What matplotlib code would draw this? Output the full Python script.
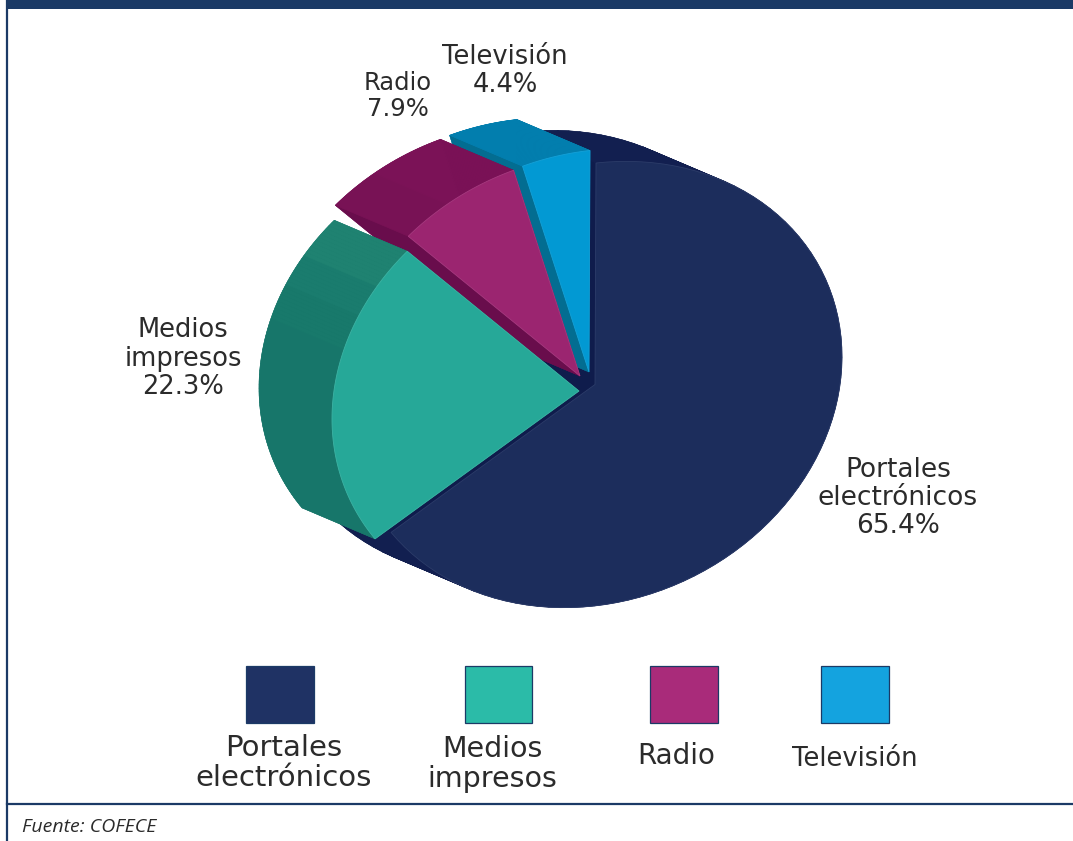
import numpy as np
from matplotlib import pyplot as plt
from matplotlib.patches import Polygon, Rectangle

plt.rcParams['font.family'] = ['DejaVu Sans']

categories = ['Portales electrónicos', 'Medios impresos', 'Radio', 'Televisión']
shares = [65.4, 22.3, 7.9, 4.4]
chart_labels = ['Portales\nelectrónicos\n65.4%', 'Medios\nimpresos\n22.3%', 'Radio\n7.9%', 'Televisión\n4.4%']
legend_labels = ['Portales\nelectrónicos', 'Medios\nimpresos', 'Radio', 'Televisión']
source = 'Fuente: COFECE'

# look of each slice, same order as categories
front_colors = ['#1c2d5c', '#26a898', '#9b2570', '#0299d3']
edge_colors = ['#2c3c69', '#3cb3a4', '#a63a7f', '#14a1d8']
side_colors = ['#121f50', '#17766a', '#7b1257', '#027eae']
wall_colors = ['#0f1c4c', '#17766a', '#690d4c', '#036d91']
legend_colors = ['#1f3264', '#2bbba8', '#a92b7a', '#14a3df']
navy = '#1b3a66'
text_color = '#2b2b2b'

# the tilted circle, in pixels
apex = [(595, 384.5), (579, 391), (580, 376), (589, 372)]
vec_a = np.array([247.0, -27.0])
vec_b = np.array([1.0, -221.5])
depth = np.array([-73.0, -31.0])


def slice_arc(center, start, stop):
    theta = np.radians(np.linspace(start, stop, 90))
    pts = np.outer(np.sin(theta), vec_a) + np.outer(np.cos(theta), vec_b)
    return pts + np.array(center)


fig = plt.figure(figsize=(10.73, 8.41), dpi=100)
ax = fig.add_axes([0, 0, 1, 1])
ax.set_xlim(0, 1073)
ax.set_ylim(841, 0)
ax.axis('off')

ends = np.cumsum(shares) * 3.6
starts = ends - np.array(shares) * 3.6

# painter's order: big slice first, medios last
for i in [0, 3, 2, 1]:
    c = np.array(apex[i], dtype=float)
    arc = slice_arc(c, starts[i], ends[i])
    back = arc + depth
    back_c = c + depth
    ax.add_patch(Polygon(np.vstack([back_c, back]), fc=side_colors[i], ec=side_colors[i], lw=0.3))
    for p, q in [(arc[0], back[0]), (arc[-1], back[-1])]:
        ax.add_patch(Polygon([c, p, q, back_c], fc=wall_colors[i], ec=wall_colors[i], lw=0.3))
    for k in range(len(arc) - 1):
        frac = k / (len(arc) - 1)
        col = side_colors[i]
        if i == 1 and frac > 0.86:
            col = '#1f8271'
        elif i == 1 and frac > 0.76:
            col = '#1a7c6e'
        elif i == 1 and frac > 0.645:
            col = '#18796b'
        elif i == 2 and frac < 0.4:
            col = '#781255'
        ax.add_patch(Polygon([arc[k], arc[k + 1], back[k + 1], back[k]], fc=col, ec=col, lw=0.4))
    ax.add_patch(Polygon(np.vstack([c, arc]), fc=front_colors[i], ec=edge_colors[i], lw=0.6))

# frame
ax.add_patch(Rectangle((6, 0), 1067, 8.5, fc=navy, ec='none'))
ax.plot([7, 7], [0, 841], color=navy, lw=1.6)
ax.plot([7, 1073], [803.5, 803.5], color=navy, lw=1.6)

# labels on the pie
label_pos = [(898, 498), (183, 358.5), (398, 96), (505, 71)]
label_size = [19, 18.5, 17.5, 18.5]
for txt, (x, y), fs in zip(chart_labels, label_pos, label_size):
    ax.text(x, y, txt, ha='center', va='center', fontsize=fs, color=text_color, linespacing=1.12)

# legend
swatch_x = [246, 465, 650, 821]
swatch_w = [68, 67, 68, 68]
legend_pos = [(284, 763), (492, 764), (676, 756), (855, 759)]
legend_size = [21, 20.5, 20, 18.5]
for i in range(len(categories)):
    ax.add_patch(Rectangle((swatch_x[i], 666), swatch_w[i], 57, fc=legend_colors[i], ec=navy, lw=0.9))
    ax.text(legend_pos[i][0], legend_pos[i][1], legend_labels[i], ha='center', va='center',
            fontsize=legend_size[i], color=text_color, linespacing=1.05)

ax.text(22, 827, source, ha='left', va='center', fontsize=14, style='italic',
        family=['Open Sans', 'DejaVu Sans'], color=text_color)

fig.savefig('out.png', dpi=100)
